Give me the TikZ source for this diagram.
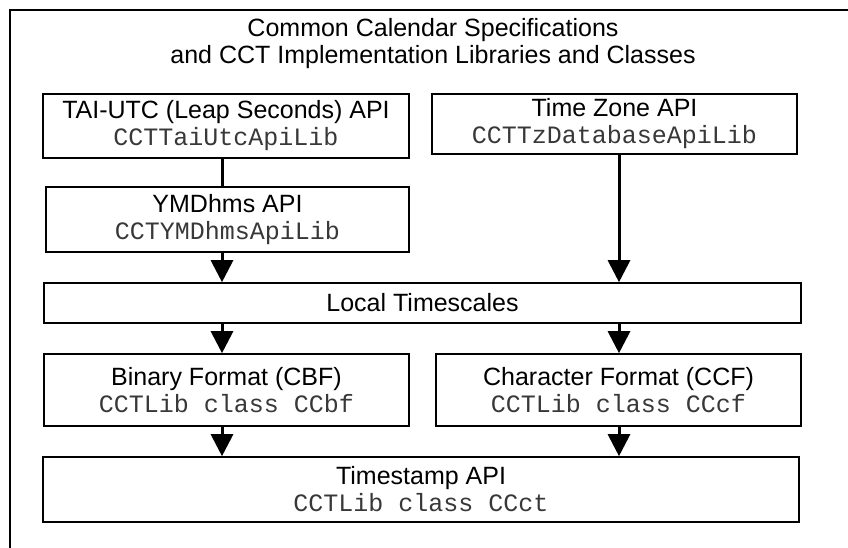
\documentclass[tikz,border=0pt]{standalone}
\usepackage{fontspec}
\setmainfont{Liberation Sans}
\setmonofont{Liberation Mono}
\usetikzlibrary{arrows.meta}
\newcommand{\cctcode}[1]{{\ttfamily\color{black!78}#1}}
\begin{document}
\begin{tikzpicture}[x=1pt,y=-1pt,
  txt/.style={font=\fontsize{25}{27}\selectfont, align=center, inner sep=0pt},
  box/.style={txt, draw, line width=1.6pt},
  conn/.style={line width=3pt},
  arr/.style={conn, -{Triangle[width=22pt,length=22pt]}}]
\useasboundingbox (0,0) rectangle (848,548);
\draw[line width=1.6pt] (10,548) -- (10,10) -- (848,10);
\node[txt] (title) at (433,44) {Common Calendar Specifications\\and CCT Implementation Libraries and Classes};
\node[box, minimum width=366pt, minimum height=64pt] (tai) at (226,126) {TAI-UTC (Leap Seconds) API\\\cctcode{CCTTaiUtcApiLib}};
\node[box, minimum width=365pt, minimum height=60pt] (tz) at (614.5,124) {Time Zone API\\\cctcode{CCTTzDatabaseApiLib}};
\node[box, minimum width=363pt, minimum height=65pt] (ymd) at (227.5,219.5) {YMDhms API\\\cctcode{CCTYMDhmsApiLib}};
\node[box, minimum width=757pt, minimum height=40pt] (local) at (422.5,303) {Local Timescales};
\node[box, minimum width=365pt, minimum height=72pt] (cbf) at (226.5,390) {Binary Format (CBF)\\\cctcode{CCTLib class CCbf}};
\node[box, minimum width=365pt, minimum height=72pt] (ccf) at (618.5,390) {Character Format (CCF)\\\cctcode{CCTLib class CCcf}};
\node[box, minimum width=756pt, minimum height=65pt] (ts) at (421,489.5) {Timestamp API\\\cctcode{CCTLib class CCct}};
\draw[conn] ([xshift=-4pt]tai.south) -- ([xshift=-4pt]tai.south |- ymd.north);
\draw[arr] ([xshift=-5.5pt]ymd.south) -- ([xshift=-5.5pt]ymd.south |- local.north);
\draw[arr] ([xshift=4.5pt]tz.south) -- ([xshift=4.5pt]tz.south |- local.north);
\draw[arr] ([xshift=-5.5pt]ymd.south |- local.south) -- ([xshift=-5.5pt]ymd.south |- cbf.north);
\draw[arr] ([xshift=0.5pt]ccf.north |- local.south) -- ([xshift=0.5pt]ccf.north);
\draw[arr] ([xshift=-4.5pt]cbf.south) -- ([xshift=-4.5pt]cbf.south |- ts.north);
\draw[arr] ([xshift=0.5pt]ccf.south) -- ([xshift=0.5pt]ccf.south |- ts.north);
\end{tikzpicture}
\end{document}
